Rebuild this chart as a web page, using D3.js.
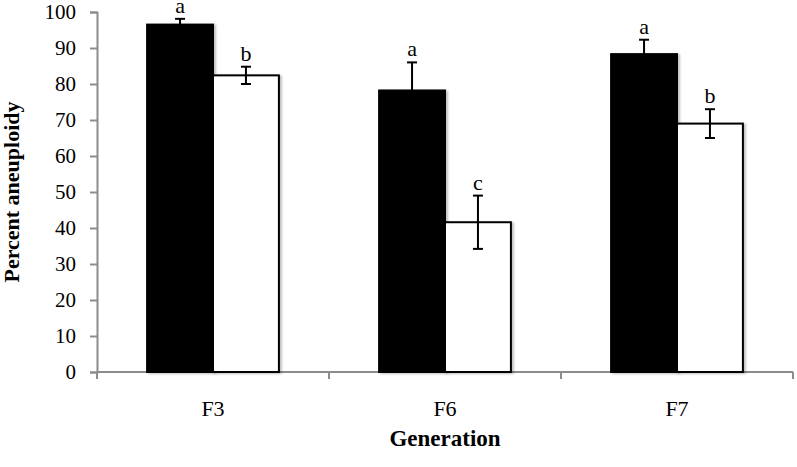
<!DOCTYPE html>
<html>
<head>
<meta charset="utf-8">
<script src="https://cdn.jsdelivr.net/npm/d3@7"></script>
<style>
  body { margin: 0; background: #fff; }
  text { font-family: "Liberation Serif", "Times New Roman", serif; }
</style>
</head>
<body>
<svg id="chart"></svg>
<script>
// data
const generations = ["F3", "F6", "F7"];
const blackValues = [96.5, 78.2, 88.3];
const blackErrors = [1.6, 7.8, 4.0];
const whiteValues = [82.4, 41.6, 69.0];
const whiteErrors = [2.4, 7.4, 4.0];
const blackLetters = ["a", "a", "a"];
const whiteLetters = ["b", "c", "b"];
const yTicks = [0, 10, 20, 30, 40, 50, 60, 70, 80, 90, 100];

const width = 797, height = 467;
const margin = { top: 12, right: 4, bottom: 95, left: 97 };

const svg = d3.select("#chart")
    .attr("width", width)
    .attr("height", height);

const x = d3.scaleBand()
    .domain(generations)
    .range([margin.left, width - margin.right])
    .paddingInner(0)
    .paddingOuter(0);

const sub = d3.scaleBand()
    .domain(["black", "white"])
    .range([0, x.bandwidth()])
    .paddingOuter(0.76)
    .paddingInner(0);

const y = d3.scaleLinear()
    .domain([0, 100])
    .range([height - margin.bottom, margin.top]);

const rows = generations.flatMap((g, i) => [
    { gen: g, key: "black", value: blackValues[i], err: blackErrors[i], letter: blackLetters[i] },
    { gen: g, key: "white", value: whiteValues[i], err: whiteErrors[i], letter: whiteLetters[i] }
]);

// soft shadow like the original
const defs = svg.append("defs");
const f = defs.append("filter").attr("id", "shadow").attr("x", "-10%").attr("y", "-10%").attr("width", "130%").attr("height", "130%");
f.append("feDropShadow").attr("dx", 2).attr("dy", 1).attr("stdDeviation", 1.2).attr("flood-color", "#000").attr("flood-opacity", 0.25);

// axes
const yAxis = svg.append("g")
    .attr("transform", `translate(${margin.left},0)`)
    .call(d3.axisLeft(y).tickValues(yTicks).tickSize(7).tickPadding(14));

const xAxis = svg.append("g")
    .attr("transform", `translate(0,${height - margin.bottom})`)
    .call(d3.axisBottom(x).tickSize(0).tickPadding(28));

// category boundary ticks on the x axis
const bounds = generations.map(g => x(g)).concat([x(generations[generations.length - 1]) + x.bandwidth()]);
xAxis.selectAll(".bound")
    .data(bounds)
    .enter().append("line")
    .attr("class", "bound")
    .attr("x1", d => d).attr("x2", d => d)
    .attr("y1", 0).attr("y2", 7);

[yAxis, xAxis].forEach(a => {
    a.select(".domain").attr("stroke", "#8c8c8c").attr("stroke-width", 2);
    a.selectAll("line").attr("stroke", "#8c8c8c").attr("stroke-width", 2);
    a.selectAll("text").attr("font-size", 21).attr("fill", "#000")
        .attr("font-family", "'Liberation Serif', 'Times New Roman', serif");
});
xAxis.selectAll("text").attr("font-size", 22);
xAxis.select(".domain").attr("d", `M${margin.left},0H${width - margin.right}`);

// bars
svg.selectAll(".bar")
    .data(rows)
    .enter().append("rect")
    .attr("class", "bar")
    .attr("x", d => x(d.gen) + sub(d.key))
    .attr("y", d => y(d.value))
    .attr("width", sub.bandwidth())
    .attr("height", d => y(0) - y(d.value))
    .attr("fill", d => d.key === "black" ? "#000" : "#fff")
    .attr("stroke", "#000")
    .attr("stroke-width", 2)
    .attr("filter", "url(#shadow)");

// error bars
const cx = d => x(d.gen) + sub(d.key) + sub.bandwidth() / 2;
const eb = svg.selectAll(".err")
    .data(rows)
    .enter().append("g")
    .attr("class", "err")
    .attr("stroke", "#000")
    .attr("stroke-width", 2);
eb.append("line")
    .attr("x1", cx).attr("x2", cx)
    .attr("y1", d => y(d.value + d.err)).attr("y2", d => y(d.value - d.err));
eb.append("line")
    .attr("x1", d => cx(d) - 5).attr("x2", d => cx(d) + 5)
    .attr("y1", d => y(d.value + d.err)).attr("y2", d => y(d.value + d.err));
eb.append("line")
    .attr("x1", d => cx(d) - 5).attr("x2", d => cx(d) + 5)
    .attr("y1", d => y(d.value - d.err)).attr("y2", d => y(d.value - d.err));

// significance letters
svg.selectAll(".letter")
    .data(rows)
    .enter().append("text")
    .attr("class", "letter")
    .attr("x", cx)
    .attr("y", d => y(d.value + d.err) - 6)
    .attr("text-anchor", "middle")
    .attr("font-size", 22)
    .text(d => d.letter);

// axis titles
svg.append("text")
    .attr("transform", `translate(19,${(y(0) + y(100)) / 2}) rotate(-90)`)
    .attr("text-anchor", "middle")
    .attr("font-size", 22)
    .attr("font-weight", "bold")
    .text("Percent aneuploidy");

svg.append("text")
    .attr("x", (margin.left + width - margin.right) / 2)
    .attr("y", 446)
    .attr("text-anchor", "middle")
    .attr("font-size", 23)
    .attr("font-weight", "bold")
    .text("Generation");
</script>
</body>
</html>
